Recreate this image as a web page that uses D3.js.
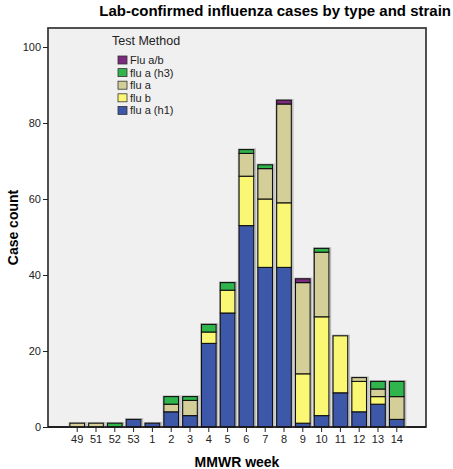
<!DOCTYPE html>
<html>
<head>
<meta charset="utf-8">
<script src="https://cdn.jsdelivr.net/npm/d3@7"></script>
<style>
  body { margin: 0; background: #fff; }
  text { font-family: "Liberation Sans", Arial, sans-serif; }
</style>
</head>
<body>
<div id="chart"></div>
<script>
// weeks along the x axis
var weeks = ['49', '51', '52', '53', '1', '2', '3', '4', '5', '6', '7', '8', '9', '10', '11', '12', '13', '14'];
var fluAH1 = [0, 0, 0, 2, 1, 4, 3, 22, 30, 53, 42, 42, 1, 3, 9, 4, 6, 2];
var fluB   = [0, 0, 0, 0, 0, 0, 0, 3, 6, 13, 18, 17, 13, 26, 15, 8, 2, 0];
var fluA   = [1, 1, 0, 0, 0, 2, 4, 0, 0, 6, 8, 26, 24, 17, 0, 1, 2, 6];
var fluAH3 = [0, 0, 1, 0, 0, 2, 1, 2, 2, 1, 1, 0, 0, 1, 0, 0, 2, 4];
var fluAB  = [0, 0, 0, 0, 0, 0, 0, 0, 0, 0, 0, 1, 1, 0, 0, 0, 0, 0];

var seriesNames = ['flu a (h1)', 'flu b', 'flu a', 'flu a (h3)', 'Flu a/b'];
var seriesValues = [fluAH1, fluB, fluA, fluAH3, fluAB];
var colors = ['#3d57a9', '#faf774', '#d4cf98', '#2fb54b', '#7b2a7e'];
var yTicks = [0, 20, 40, 60, 80, 100];

var width = 453, height = 469;
var plot = {left: 48, right: 426, top: 28, bottom: 427};

var svg = d3.select('#chart').append('svg')
    .attr('width', width)
    .attr('height', height);

// table for the stack layout
var table = weeks.map(function (w, i) {
    var row = {week: w};
    seriesNames.forEach(function (s, j) { row[s] = seriesValues[j][i]; });
    return row;
});
var stacked = d3.stack().keys(seriesNames)(table);

var x = d3.scaleBand().domain(weeks).range([plot.left + 20, plot.right - 20]).paddingInner(0.22).paddingOuter(0.1);
var y = d3.scaleLinear().domain([0, 105]).range([plot.bottom, plot.top]);

// plot background
svg.append('rect')
    .attr('x', plot.left).attr('y', plot.top)
    .attr('width', plot.right - plot.left).attr('height', plot.bottom - plot.top)
    .attr('fill', '#f0f0f0')
    .attr('stroke', '#333')
    .attr('stroke-width', 1.7);

// soft shadow behind each stack
svg.append('g').selectAll('rect')
    .data(table)
    .join('rect')
    .attr('x', d => x(d.week) - 0.5)
    .attr('y', d => y(d3.sum(seriesNames, s => d[s])) - 0.5)
    .attr('width', x.bandwidth() + 2)
    .attr('height', d => plot.bottom - y(d3.sum(seriesNames, s => d[s])) + 0.5)
    .attr('fill', 'none')
    .attr('stroke', '#bbb')
    .attr('stroke-width', 1.5);

var layers = svg.append('g').selectAll('g')
    .data(stacked)
    .join('g')
    .attr('fill', (d, i) => colors[i]);

layers.selectAll('rect')
    .data(d => d.filter(p => p[1] > p[0]))
    .join('rect')
    .attr('x', d => x(d.data.week))
    .attr('y', d => y(d[1]))
    .attr('width', x.bandwidth())
    .attr('height', d => y(d[0]) - y(d[1]))
    .attr('stroke', '#111')
    .attr('stroke-width', 1.1);

// axes
var xAxis = svg.append('g')
    .attr('transform', `translate(0,${plot.bottom})`)
    .call(d3.axisBottom(x).tickSize(5).tickPadding(3).tickSizeOuter(0));
xAxis.select('.domain').attr('stroke', '#111').attr('stroke-width', 1.3)
    .attr('d', `M${plot.left},0H${plot.right}`);

var yAxis = svg.append('g')
    .attr('transform', `translate(${plot.left},0)`)
    .call(d3.axisLeft(y).tickValues(yTicks).tickSize(5).tickPadding(2).tickSizeOuter(0));
yAxis.select('.domain').remove();

svg.selectAll('.tick text')
    .attr('font-size', 11)
    .attr('font-family', '"Liberation Sans", Arial, sans-serif')
    .attr('fill', '#222');
svg.selectAll('.tick line').attr('stroke', '#222');

// titles
svg.append('text')
    .attr('x', 451).attr('y', 16)
    .attr('text-anchor', 'end')
    .attr('font-size', 15).attr('font-weight', 'bold')
    .text('Lab-confirmed influenza cases by type and strain');

svg.append('text')
    .attr('transform', `translate(18,${(plot.top + plot.bottom) / 2}) rotate(-90)`)
    .attr('text-anchor', 'middle')
    .attr('font-size', 14).attr('font-weight', 'bold')
    .text('Case count');

svg.append('text')
    .attr('x', (plot.left + plot.right) / 2).attr('y', 467)
    .attr('text-anchor', 'middle')
    .attr('font-size', 14).attr('font-weight', 'bold')
    .text('MMWR week');

// legend
var legend = svg.append('g').attr('transform', 'translate(112,45)');
legend.append('text')
    .attr('x', 0).attr('y', 0)
    .attr('font-size', 12.5).attr('fill', '#222')
    .text('Test Method');

var items = legend.selectAll('g.item')
    .data(seriesNames.slice().reverse())
    .join('g')
    .attr('class', 'item')
    .attr('transform', (d, i) => `translate(6,${11 + i * 12.6})`);
items.append('rect')
    .attr('width', 9).attr('height', 8)
    .attr('fill', d => colors[seriesNames.indexOf(d)])
    .attr('stroke', '#333').attr('stroke-width', 0.8);
items.append('text')
    .attr('x', 12).attr('y', 8)
    .attr('font-size', 11).attr('fill', '#222')
    .text(d => d);
</script>
</body>
</html>
